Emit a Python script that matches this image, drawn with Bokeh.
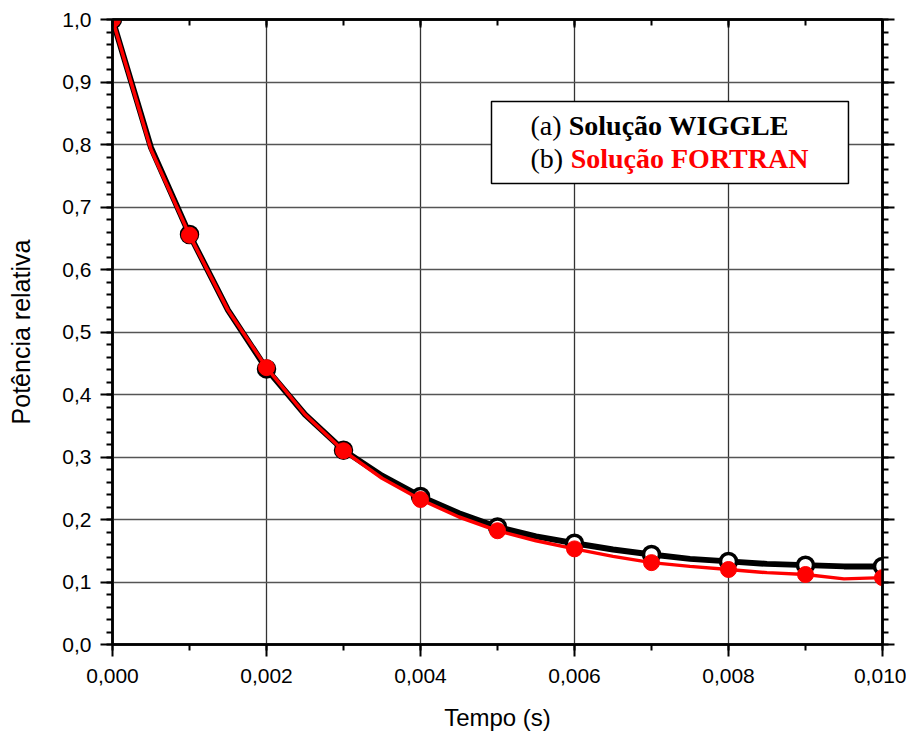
from bokeh.plotting import figure
from bokeh.models import (Range1d, LinearAxis, CustomJSTickFormatter, BoxAnnotation,
                          Label, FixedTicker)
from bokeh.embed import file_html
from bokeh.resources import INLINE

# ---- data ----
t_pts = [0.0, 0.001, 0.002, 0.003, 0.004, 0.005, 0.006, 0.007, 0.008, 0.009, 0.010]
wiggle = [1.0, 0.656, 0.441, 0.311, 0.237, 0.188, 0.162, 0.144, 0.133, 0.127, 0.125]
fortran = [1.0, 0.655, 0.443, 0.310, 0.232, 0.182, 0.153, 0.131, 0.120, 0.112, 0.107]

t_line = [0.0, 0.0005, 0.001, 0.0015, 0.002, 0.0025, 0.003, 0.0035, 0.004, 0.0045,
          0.005, 0.0055, 0.006, 0.0065, 0.007, 0.0075, 0.008, 0.0085, 0.009, 0.0095, 0.010]
wiggle_line = [1.0, 0.795, 0.656, 0.535, 0.441, 0.368, 0.311, 0.270, 0.237, 0.210,
               0.188, 0.173, 0.162, 0.152, 0.144, 0.137, 0.133, 0.129, 0.127, 0.125, 0.125]
fortran_line = [1.0, 0.792, 0.655, 0.535, 0.443, 0.368, 0.310, 0.266, 0.232, 0.204,
                0.182, 0.166, 0.153, 0.141, 0.131, 0.125, 0.120, 0.115, 0.112, 0.105, 0.107]

x_ticks = [0.0, 0.002, 0.004, 0.006, 0.008, 0.010]
y_ticks = [0.0, 0.1, 0.2, 0.3, 0.4, 0.5, 0.6, 0.7, 0.8, 0.9, 1.0]
x_label = "Tempo (s)"
y_label = "Potência relativa"
leg_a_prefix, leg_a_text = "(a)", "Solução WIGGLE"
leg_b_prefix, leg_b_text = "(b)", "Solução FORTRAN"

FONT = "Liberation Sans"
SERIF = "Liberation Serif"

p = figure(frame_width=770, frame_height=625, output_backend="svg", toolbar_location=None,
           x_range=Range1d(0, 0.010), y_range=Range1d(0, 1.0),
           min_border_left=112, min_border_right=24, min_border_top=19, min_border_bottom=83,
           background_fill_color="white", border_fill_color="white")

p.outline_line_color = "black"
p.outline_line_width = 2.5

xfmt = CustomJSTickFormatter(code="return tick.toFixed(3).replace('.', ',');")
yfmt = CustomJSTickFormatter(code="return tick.toFixed(1).replace('.', ',');")
blank = CustomJSTickFormatter(code="return '';")

xt = FixedTicker(ticks=x_ticks, minor_ticks=[i * 0.001 for i in range(11)])
yt = FixedTicker(ticks=y_ticks, minor_ticks=[i * 0.02 for i in range(51)])

for ax, fmt, tk in ((p.xaxis[0], xfmt, xt), (p.yaxis[0], yfmt, yt)):
    ax.ticker = tk
    ax.formatter = fmt
    ax.axis_line_width = 2.5
    ax.major_tick_line_width = 2
    ax.minor_tick_line_width = 2
    ax.major_tick_out = 12
    ax.major_tick_in = 0
    ax.minor_tick_out = 6
    ax.minor_tick_in = 0
    ax.major_label_text_font = FONT
    ax.major_label_text_font_size = "21px"
    ax.major_label_text_color = "black"
    ax.axis_label_text_font = FONT
    ax.axis_label_text_font_style = "normal"
    ax.axis_label_text_color = "black"

p.xaxis.major_label_standoff = 12
p.yaxis.major_label_standoff = 9
p.xaxis.axis_label = x_label
p.xaxis.axis_label_text_font_size = "24px"
p.xaxis.axis_label_standoff = 18
p.yaxis.axis_label = y_label
p.yaxis.axis_label_text_font_size = "25px"
p.yaxis.axis_label_standoff = 24

# mirrored axes (ticks only)
right = LinearAxis(ticker=yt, formatter=blank, major_label_standoff=0,
                   axis_line_width=2.5, major_tick_out=12, major_tick_in=0,
                   minor_tick_out=6, minor_tick_in=0,
                   major_tick_line_width=2, minor_tick_line_width=2)
top = LinearAxis(ticker=xt, formatter=blank, major_label_standoff=0,
                 axis_line_width=2.5, major_tick_out=0, major_tick_in=8,
                 minor_tick_out=0, minor_tick_in=6,
                 major_tick_line_width=2, minor_tick_line_width=2)
p.add_layout(right, "right")
p.add_layout(top, "above")

p.xgrid.ticker = xt
p.ygrid.ticker = yt
p.xgrid.grid_line_color = "#333333"
p.ygrid.grid_line_color = "#555555"
p.xgrid.grid_line_width = 1.3
p.ygrid.grid_line_width = 1.3

# series
p.line(t_line, wiggle_line, line_color="black", line_width=6)
p.scatter(t_pts, wiggle, marker="circle", size=16, line_color="black", line_width=3.5,
          fill_color="white")
p.line(t_line, fortran_line, line_color="#ff0000", line_width=3.5)
p.scatter(t_pts, fortran, marker="circle", size=16, line_color="#ff0000", line_width=1,
          fill_color="#ff0000")

# legend box
p.add_layout(BoxAnnotation(left=0.004922, right=0.009558, bottom=0.7376, top=0.8688,
                           fill_color="white", fill_alpha=1.0, line_color="black",
                           line_alpha=1.0, line_width=1.5, level="annotation"))
for (txt, x, y, color, style) in (
        (leg_a_prefix, 0.005429, 0.8300, "black", "normal"),
        (leg_a_text, 0.005925, 0.8300, "black", "bold"),
        (leg_b_prefix, 0.005429, 0.7770, "black", "normal"),
        (leg_b_text, 0.005950, 0.7770, "#ff0000", "bold")):
    p.add_layout(Label(x=x, y=y, text=txt, text_font=SERIF, text_font_size="28px",
                       text_color=color, text_font_style=style,
                       text_baseline="alphabetic", text_align="left"))

open("out.html", "w").write(file_html(p, INLINE))
